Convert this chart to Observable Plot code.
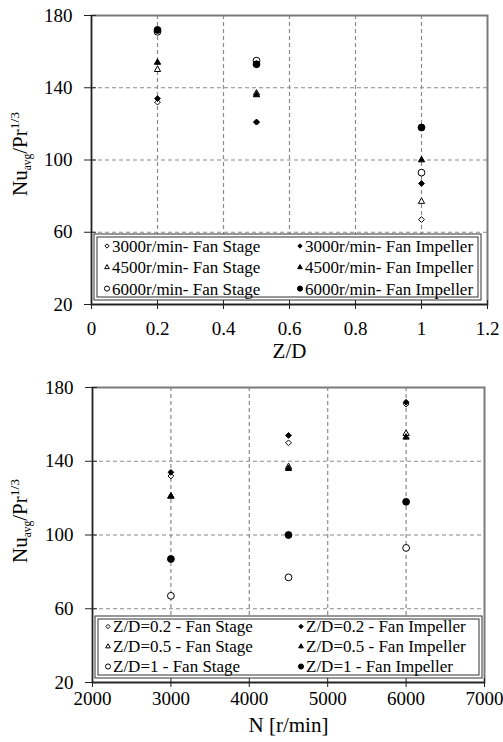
<!DOCTYPE html>
<html><head><meta charset="utf-8">
<script src="https://cdn.jsdelivr.net/npm/d3@7"></script>
<script src="https://cdn.jsdelivr.net/npm/@observablehq/plot@0.6"></script>
<style>
body{margin:0;background:#fff;}
#c{width:503px;}
#c svg{display:block;font-family:'Liberation Serif','Times New Roman','DejaVu Serif',serif;}
#c svg text{font-family:'Liberation Serif','Times New Roman','DejaVu Serif',serif;}
</style></head><body><div id="c"></div>
<script>
// ---- data ----
const speeds = [3000, 4500, 6000];          // N [r/min]
const ratios = [0.2, 0.5, 1];               // Z/D
// rows = speeds, cols = Z/D
const stageValues    = [[132, 121, 67], [150, 137, 77], [171, 155, 93]];
const impellerValues = [[134, 121, 87], [154, 136, 100], [172, 153, 118]];
const yTicks = [20, 60, 100, 140, 180];
const yGrid = [60, 100, 140];
const xTicksTop = [0, 0.2, 0.4, 0.6, 0.8, 1, 1.2];
const xGridTop = [0.2, 0.4, 0.6, 0.8, 1];
const xTicksBottom = [2000, 3000, 4000, 5000, 6000, 7000];
const xGridBottom = [3000, 4000, 5000, 6000];
const topLegend = ["3000r/min- Fan Stage", "3000r/min- Fan Impeller", "4500r/min- Fan Stage", "4500r/min- Fan Impeller", "6000r/min- Fan Stage", "6000r/min- Fan Impeller"];
const bottomLegend = ["Z/D=0.2 - Fan Stage", "Z/D=0.2 - Fan Impeller", "Z/D=0.5 - Fan Stage", "Z/D=0.5 - Fan Impeller", "Z/D=1 - Fan Stage", "Z/D=1 - Fan Impeller"];
const symbolNames = ["diamond2", "triangle2", "circle"];
const symbolR = [2.6, 3.0, 3.4];
const types = ["stage", "impeller"];

const rows = [];
speeds.forEach((N, i) => ratios.forEach((ZD, j) => {
  rows.push({N, ZD, type: "stage", value: stageValues[i][j]});
  rows.push({N, ZD, type: "impeller", value: impellerValues[i][j]});
}));

const FONT = "'Liberation Serif', 'Times New Roman', 'DejaVu Serif', serif";
const d3Sym = {diamond2: d3.symbolDiamond2, triangle2: d3.symbolTriangle2, circle: d3.symbolCircle};

function seriesMarks(xKey, groupKey, groups) {
  const marks = [];
  groups.forEach((g, gi) => types.forEach(t => {
    marks.push(Plot.dot(rows.filter(r => r[groupKey] === g && r.type === t), {
      x: xKey, y: "value", symbol: symbolNames[gi], r: symbolR[gi],
      fill: t === "stage" ? "white" : "black", stroke: "black", strokeWidth: 1
    }));
  }));
  return marks;
}

function makeChart(cfg) {
  const chart = Plot.plot({
    width: 503, height: cfg.height,
    marginTop: cfg.mt, marginRight: cfg.mr, marginBottom: cfg.mb, marginLeft: cfg.ml,
    style: {fontFamily: FONT, fontSize: "19px", background: "white", color: "black"},
    x: {domain: cfg.xDomain},
    y: {domain: [20, 180]},
    marks: [
      Plot.gridY(yGrid, {stroke: "#8a8a8a", strokeOpacity: 1, strokeDasharray: "4,3", strokeWidth: 1.2}),
      Plot.gridX(cfg.xGrid, {stroke: "#8a8a8a", strokeOpacity: 1, strokeDasharray: "4,3", strokeWidth: 1.2}),
      Plot.frame({stroke: "#7a7a7a", strokeWidth: 2}),
      Plot.ruleX([cfg.xDomain[0]], {stroke: "#222", strokeWidth: 1.3}),
      Plot.ruleY([20], {stroke: "#222", strokeWidth: 1.3}),
      Plot.axisY(yTicks, {tickSize: 7, tickPadding: 12, label: null, tickFormat: d => String(d), stroke: "#222", fontSize: 19}),
      Plot.axisY(yTicks, {tickSize: 5, dx: 5, label: null, tickFormat: () => "", stroke: "#222"}),
      Plot.axisX(cfg.xTicks, {tickSize: 5, tickPadding: cfg.xPad, label: null, tickFormat: d => String(d), stroke: "#222", fontSize: 19}),
      Plot.axisX(cfg.xTicks, {tickSize: 4, dy: -4, label: null, tickFormat: () => "", stroke: "#222"}),
      Plot.text([cfg.xLabel], {frameAnchor: "bottom", dy: cfg.xLabelDy, fontSize: 21}),
      ...seriesMarks(cfg.xKey, cfg.groupKey, cfg.groups)
    ]
  });
  const svg = d3.select(chart);
  const plotBottom = cfg.height - cfg.mb;
  // y-axis title with subscript / superscript
  const t = svg.append("text")
    .attr("transform", `translate(${cfg.yLabelX},${cfg.yLabelY}) rotate(-90)`)
    .attr("text-anchor", "middle").attr("font-size", 21).attr("fill", "black");
  t.append("tspan").text("Nu");
  t.append("tspan").attr("font-size", 11.5).attr("dy", 4).text("avg");
  t.append("tspan").attr("dy", -4).text("/Pr");
  t.append("tspan").attr("font-size", 13.5).attr("dy", -8).text("1/3");
  // legend
  const lg = svg.append("g");
  const bx = cfg.ml + 3, bw = cfg.legendW, bh = cfg.legendH, by = plotBottom - 4 - bh;
  lg.append("rect").attr("x", bx).attr("y", by).attr("width", bw).attr("height", bh)
    .attr("fill", "white").attr("stroke", "#333").attr("stroke-width", 1);
  lg.append("rect").attr("x", bx + 3).attr("y", by + 3).attr("width", bw - 6).attr("height", bh - 6)
    .attr("fill", "none").attr("stroke", "#333").attr("stroke-width", 1);
  cfg.legend.forEach((label, k) => {
    const gi = Math.floor(k / 2), col = k % 2;
    const x = bx + 13 + col * cfg.colW, y = by + cfg.row0 + gi * cfg.rowStep;
    const sym = d3.symbol(d3Sym[symbolNames[gi]], Math.PI * Math.pow(symbolR[gi] * 0.75, 2))();
    lg.append("path").attr("d", sym).attr("transform", `translate(${x},${y})`)
      .attr("fill", col === 0 ? "white" : "black").attr("stroke", "black").attr("stroke-width", 1);
    lg.append("text").attr("x", x + 5).attr("y", y).attr("dy", "0.35em").attr("text-anchor", "start")
      .attr("font-size", 17).attr("fill", "black").text(label);
  });
  return chart;
}

const topChart = makeChart({
  height: 370, mt: 15, mr: 16, mb: 66, ml: 91,
  xDomain: [0, 1.2], xTicks: xTicksTop, xGrid: xGridTop, xPad: 12,
  xLabel: "Z/D", xLabelDy: 53, xKey: "ZD", groupKey: "N", groups: speeds,
  yLabelX: 27, yLabelY: 154, legend: topLegend, legendW: 387, colW: 193,
  legendH: 66, row0: 12, rowStep: 21.3
});
const bottomChart = makeChart({
  height: 372, mt: 17, mr: 19, mb: 60, ml: 92,
  xDomain: [2000, 7000], xTicks: xTicksBottom, xGrid: xGridBottom, xPad: 4,
  xLabel: "N [r/min]", xLabelDy: 49, xKey: "N", groupKey: "ZD", groups: ratios,
  yLabelX: 27, yLabelY: 151, legend: bottomLegend, legendW: 387, colW: 193,
  legendH: 62, row0: 10.5, rowStep: 20
});
document.getElementById("c").append(topChart, bottomChart);
</script>
</body></html>
